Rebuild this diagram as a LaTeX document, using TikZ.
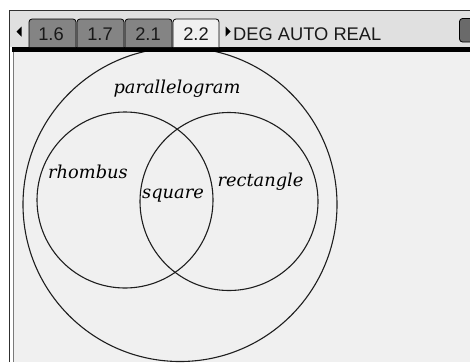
\documentclass[tikz,border=0pt]{standalone}
\usepackage{fontspec}
\newfontfamily\lblfont{DejaVu Serif}
\newfontfamily\hdrfont{Liberation Sans}
\definecolor{canvasbg}{HTML}{F0F0F0}
\definecolor{headbg}{HTML}{E0E0E0}
\definecolor{tabgray}{HTML}{848484}
\definecolor{ringcol}{HTML}{1E1E1E}
\definecolor{framecol}{HTML}{303030}
\definecolor{innerline}{HTML}{7A7A7A}
\definecolor{boxgray}{HTML}{6A6A6A}
\begin{document}
\begin{tikzpicture}[x=1pt,y=-1pt,
  vennring/.style={circle,draw=ringcol,line width=1.1pt,inner sep=0pt,outer sep=0pt},
  vlabel/.style={font=\lblfont\itshape\fontsize{17.8}{20}\selectfont,text=black,anchor=base,inner sep=0pt},
  tabbox/.style={draw=black,line width=0.8pt,rounded corners=3pt},
  hdrtext/.style={font=\hdrfont\fontsize{18.3}{20}\selectfont,text=black!90,inner sep=0pt}]
\useasboundingbox (0,0) rectangle (470,362);
\fill[white] (0,0) rectangle (470,362);
% header and canvas backgrounds
\fill[headbg] (9.5,10.5) rectangle (470,47);
\fill[canvasbg] (13.5,52) rectangle (470,362);
% Venn circles, clipped to the canvas
\begin{scope}
  \clip (13.5,52) rectangle (470,362);
  \node[vennring,minimum size=314pt] (para) at (180,204.5) {};
  \node[vennring,minimum size=176pt] (rhomb) at (125,200) {};
  \node[vennring,minimum size=178pt] (rect) at (229,201.5) {};
\end{scope}
% frame lines
\draw[framecol,line width=1.3pt] (9.5,362) -- (9.5,10.5) -- (470,10.5);
\draw[innerline,line width=1pt] (13.5,52) -- (13.5,362);
\fill[black] (12,46.5) rectangle (470,52);
% tabs
\fill[black] (21.5,26.5) -- (16.5,31.5) -- (21.5,36.5) -- cycle;
\draw[tabbox,fill=tabgray] (29,47) -- (29,19) -- (76,19) -- (76,47);
\draw[tabbox,fill=tabgray] (77,47) -- (77,19) -- (124,19) -- (124,47);
\draw[tabbox,fill=tabgray] (125,47) -- (125,19) -- (172,19) -- (172,47);
\draw[tabbox,fill=canvasbg] (173,47) -- (173,19) -- (219,19) -- (219,47);
\node[hdrtext,anchor=base] (t16) at (51,40) {1.6};
\node[hdrtext,anchor=base] (t17) at (100,40) {1.7};
\node[hdrtext,anchor=base] (t21) at (148,40) {2.1};
\node[hdrtext,anchor=base] (t22) at (196,40) {2.2};
\fill[black] (225.5,26.5) -- (230.5,31.5) -- (225.5,36.5) -- cycle;
\node[hdrtext,anchor=base west] (mode) at (233,40) {DEG AUTO REAL};
\draw[black,line width=0.8pt,fill=boxgray,rounded corners=3pt] (471,42) -- (459.5,42) -- (459.5,18.5) -- (471,18.5);
% labels
\node[vlabel] (lpara) at (177,93) {parallelogram};
\node[vlabel] (lrhomb) at (88,178) {rhombus};
\node[vlabel] (lsq) at (173,198) {square};
\node[vlabel] (lrect) at (260.5,186) {rectangle};
\end{tikzpicture}
\end{document}
